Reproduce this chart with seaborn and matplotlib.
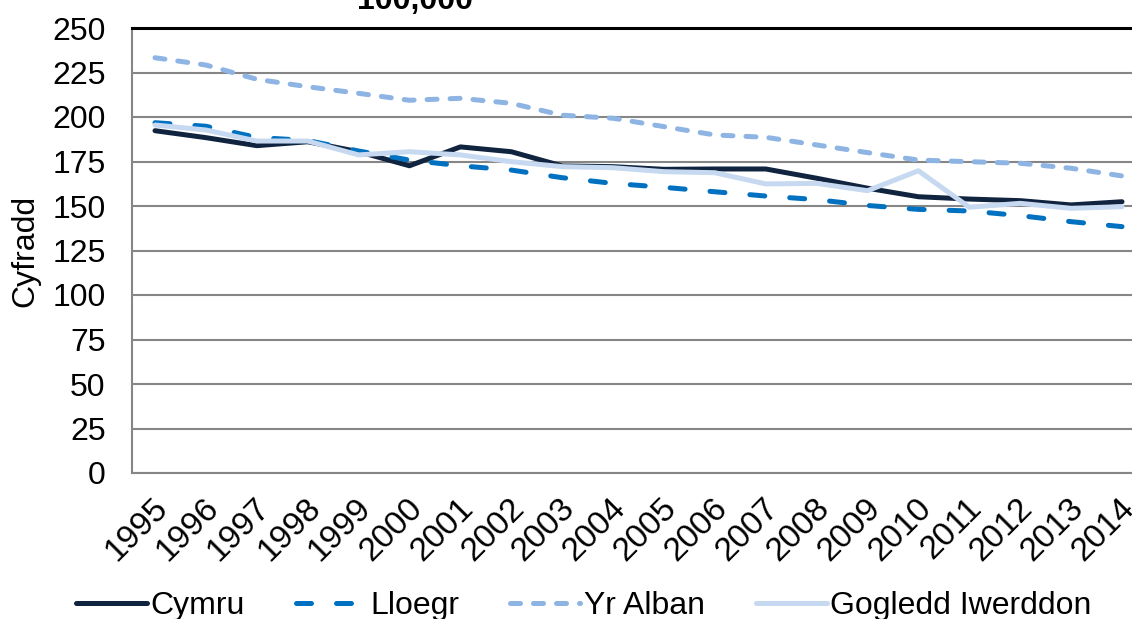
import matplotlib
matplotlib.use("Agg")
import matplotlib.pyplot as plt
import matplotlib.transforms as mtransforms
import seaborn as sns
import pandas as pd

# Rates by nation, 1995-2014
years = list(range(1995, 2015))
cymru = [192.3, 188.4, 183.9, 186.1, 180.5, 172.6, 183.2, 180.5, 172.5, 172.1,
         170.6, 170.8, 170.8, 165.6, 160.0, 155.2, 153.9, 153.0, 150.6, 152.4]
lloegr = [196.8, 194.8, 188.5, 186.8, 180.9, 175.8, 172.6, 170.2, 165.9, 162.7,
          160.5, 158.0, 155.6, 153.6, 150.3, 148.1, 147.2, 144.6, 141.2, 138.4]
yr_alban = [233.3, 229.2, 221.2, 217.0, 213.3, 209.4, 210.5, 207.7, 201.0, 199.3,
            194.6, 189.9, 188.6, 184.3, 180.0, 175.8, 174.9, 174.0, 171.2, 166.9]
gogledd_iwerddon = [195.5, 192.7, 186.5, 186.5, 178.7, 180.5, 178.7, 174.9, 172.1, 171.5,
                    169.3, 168.7, 162.4, 162.7, 158.6, 169.8, 149.3, 151.5, 148.7, 149.6]

series_names = ["Cymru", "Lloegr", "Yr Alban", "Gogledd Iwerddon"]
y_ticks = list(range(0, 251, 25))
y_label = "Cyfradd"
title_tail = "100,000"

df = pd.DataFrame({
    "Blwyddyn": years * 4,
    "Cyfradd": cymru + lloegr + yr_alban + gogledd_iwerddon,
    "Gwlad": sum([[n] * len(years) for n in series_names], []),
})

sns.set_theme(style="white")
plt.rcParams["font.family"] = ["Liberation Sans", "DejaVu Sans"]
plt.rcParams["text.color"] = "black"
plt.rcParams["axes.labelcolor"] = "black"

W, H = 1132, 619
fig = plt.figure(figsize=(W / 100, H / 100), dpi=100)
# Plot area: left edge 132 px, right edge 1145 px (runs past the canvas), top 28 px, bottom 473 px
ax = fig.add_axes([132 / W, (H - 473) / H, 1013 / W, 445 / H])

styles = {
    "Cymru": dict(color="#10243F", linestyle="-"),
    "Lloegr": dict(color="#0070C0", linestyle=(0, (3.0, 5.0))),
    "Yr Alban": dict(color="#8EB4E3", linestyle=(0, (2.0, 2.6))),
    "Gogledd Iwerddon": dict(color="#C6D9F1", linestyle="-"),
}

for name in series_names:
    sub = df[df["Gwlad"] == name]
    sns.lineplot(data=sub, x="Blwyddyn", y="Cyfradd", ax=ax, label=name,
                 linewidth=3.6, dash_capstyle="round", solid_capstyle="round",
                 solid_joinstyle="round", dash_joinstyle="round",
                 legend=False, **styles[name])

half = 0.452
ax.set_xlim(years[0] - half, years[-1] + half)
ax.set_ylim(0, 250)
ax.set_yticks(y_ticks)
ax.set_xticks(years)
ax.set_xticklabels([str(y) for y in years], rotation=45, ha="right",
                   va="top", rotation_mode="anchor")
ax.tick_params(axis="both", length=0, labelsize=23, colors="black")
ax.tick_params(axis="x", labelsize=24, pad=14)
ax.tick_params(axis="y", pad=19)
offset = mtransforms.ScaledTranslation(-3 / 100, 0, fig.dpi_scale_trans)
for lbl in ax.get_xticklabels():
    lbl.set_transform(lbl.get_transform() + offset)

ax.set_xlabel("")
ax.set_ylabel(y_label, fontsize=23)
ax.yaxis.set_label_coords(-(132 - 40) / 1013, 0.5)

ax.grid(axis="y", color="#868686", linewidth=1.5)
ax.grid(axis="x", visible=False)
ax.set_axisbelow(True)
for side in ["left", "bottom"]:
    ax.spines[side].set_color("#868686")
    ax.spines[side].set_linewidth(1.5)
ax.spines["top"].set_color("black")
ax.spines["top"].set_linewidth(2.2)
ax.spines["right"].set_visible(False)

fig.text(415 / W, 1 - 9 / H, title_tail, ha="center", va="baseline",
         fontsize=23, fontweight="bold")

handles, labels = ax.get_legend_handles_labels()
fig.legend(handles, labels, loc="center", bbox_to_anchor=(584 / W, 1 - 606 / H),
           ncol=4, frameon=False, fontsize=23, handlelength=2.2,
           handletextpad=0.12, columnspacing=1.6, borderpad=0)

fig.savefig("out.png", dpi=100)
